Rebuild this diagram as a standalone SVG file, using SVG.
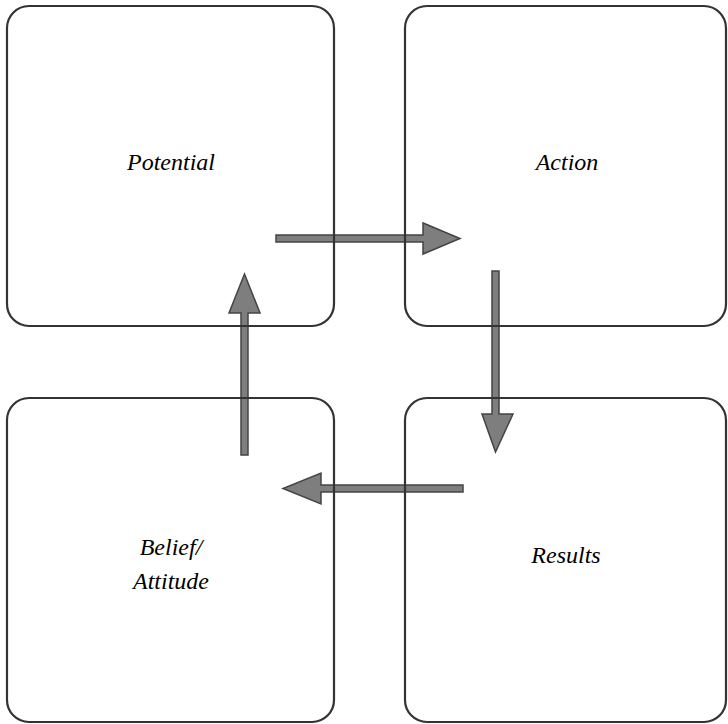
<svg xmlns="http://www.w3.org/2000/svg" width="728" height="724" viewBox="0 0 728 724">
<style>
.box{fill:none;stroke:#333;stroke-width:2.2}
.lbl{font-family:"Liberation Serif","Times New Roman",serif;font-style:italic;font-size:24px;fill:#000;text-anchor:middle}
.arr{fill:#7e7e7e;stroke:#444;stroke-width:1.5;stroke-linejoin:miter}
</style>
<rect width="728" height="724" fill="#fff"/>
<g id="connectors">
<path class="arr" d="M276,235 H423 V223 L460,238.5 L423,254 V242 H276 Z"/>
<path class="arr" d="M492,271 H499 V414 H513 L495.5,452 L482,414 H492 Z"/>
<path class="arr" d="M463,485 H321 V473 L283,488.5 L321,504 V492 H463 Z"/>
<path class="arr" d="M241,455 V313 H229 L244.5,274 L260,313 H248 V455 Z"/>
</g>
<g id="potential">
<rect class="box" x="7" y="6" width="327" height="320" rx="22"/>
<text class="lbl" x="171" y="170">Potential</text>
</g>
<g id="action">
<rect class="box" x="405" y="6" width="321" height="320" rx="22"/>
<text class="lbl" x="567" y="170">Action</text>
</g>
<g id="results">
<rect class="box" x="405" y="398" width="321" height="324" rx="22"/>
<text class="lbl" x="566" y="563">Results</text>
</g>
<g id="belief">
<rect class="box" x="7" y="398" width="327" height="324" rx="22"/>
<text class="lbl" x="171" y="555">Belief/</text>
<text class="lbl" x="171" y="589">Attitude</text>
</g>
</svg>
